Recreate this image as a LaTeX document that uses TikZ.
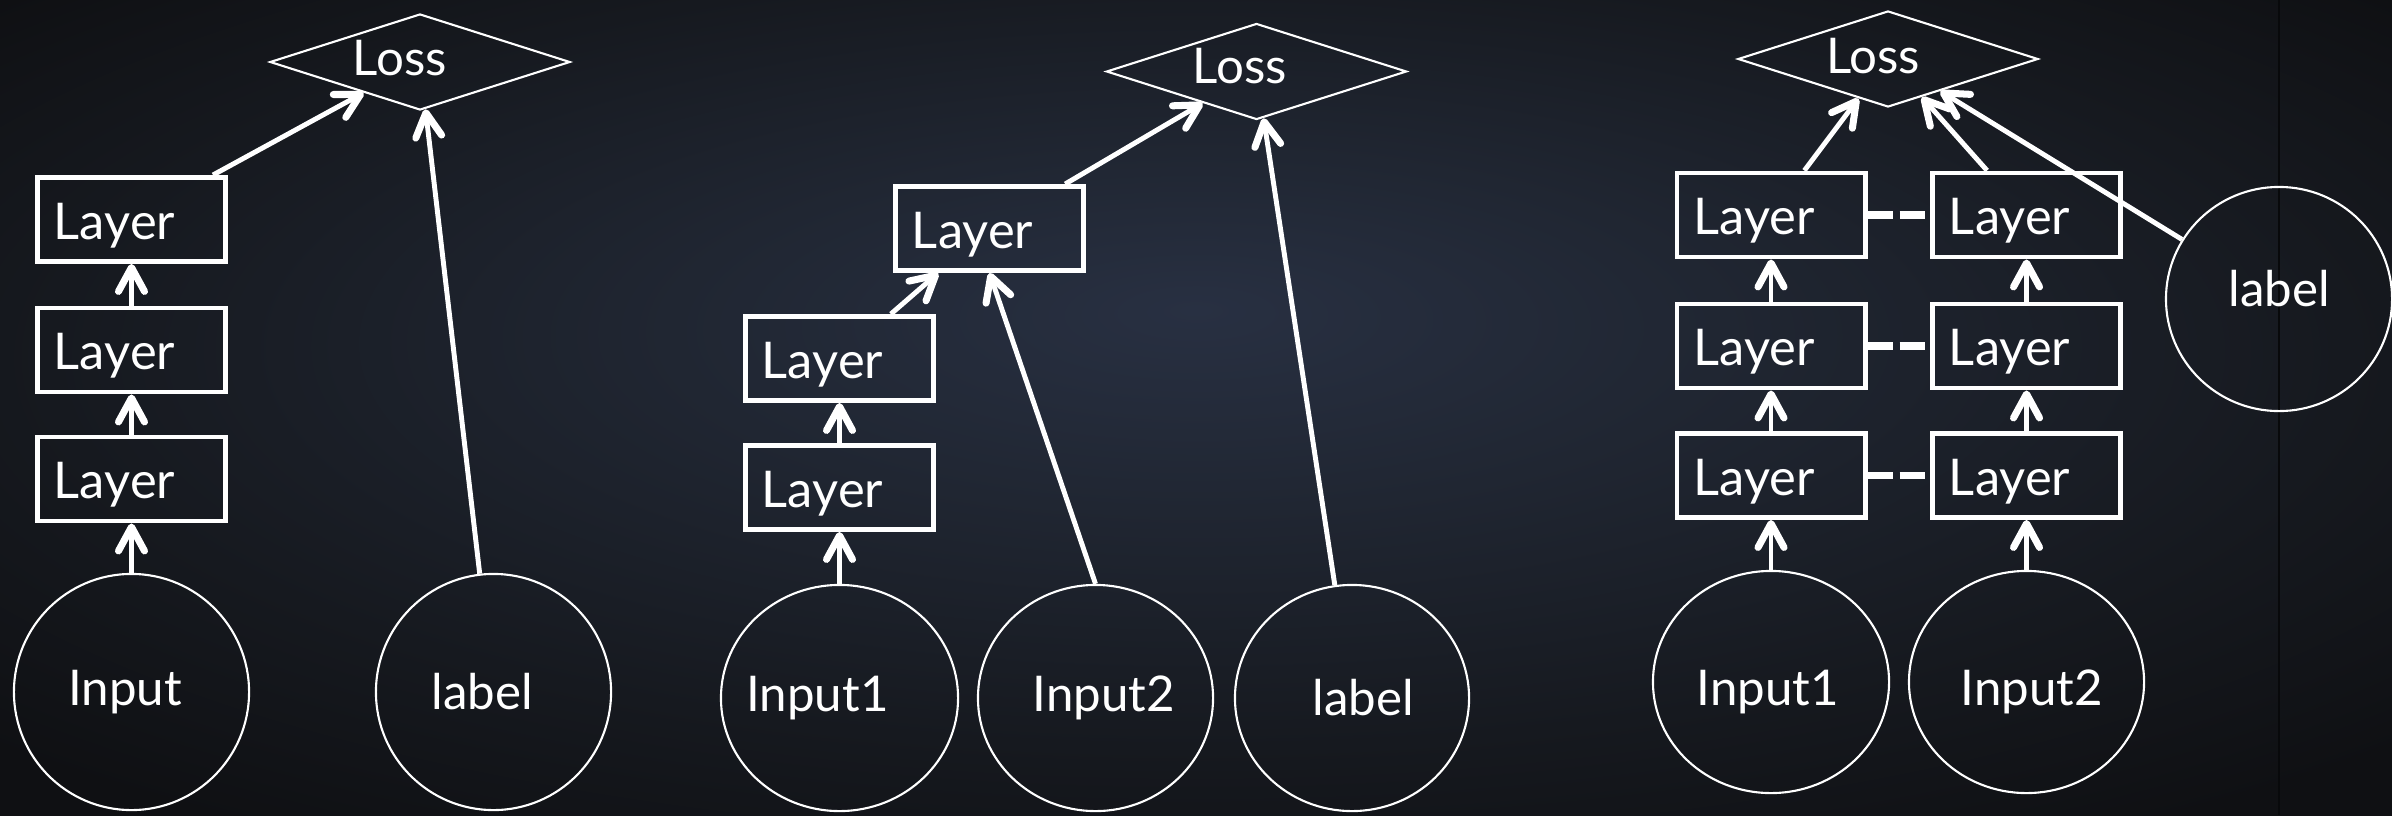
\documentclass[tikz,border=0pt]{standalone}
\usepackage{fontspec}
\setmainfont{Lato}
\usetikzlibrary{arrows.meta,shapes.geometric,calc}

% slate backdrop, lighter towards the upper middle
\definecolor{bgin}{HTML}{283042}
\definecolor{bgmid}{HTML}{202632}
\definecolor{bgedge}{HTML}{16191F}
\definecolor{bgcorner}{HTML}{0F1013}
\definecolor{seam}{HTML}{08090B}
\pgfdeclareradialshading{slate}{\pgfpoint{0bp}{6bp}}{%
  color(0bp)=(bgin); color(11bp)=(bgmid); color(24bp)=(bgedge);
  color(34bp)=(bgcorner); color(50bp)=(bgcorner)}

\tikzset{
  txt/.style={text=white, font=\fontsize{14}{16}\selectfont, inner sep=0pt},
  layerbox/.style={draw=white, line width=1.4pt, minimum height=0.84cm,
    text width=1.55cm, inner xsep=0.165cm, inner ysep=0pt, align=left,
    text height=11.3pt, text depth=0pt,
    text=white, font=\fontsize{14.4}{16}\selectfont},
  blob/.style={draw=white, line width=0.6pt, ellipse, inner sep=0pt},
  lossbox/.style={draw=white, line width=0.6pt, diamond, inner sep=0pt,
    minimum width=3.0cm, minimum height=0.96cm, aspect=3.1},
  arr/.style={draw=white, line width=1.4pt,
    -{Straight Barb[length=6.8pt, width=7.4pt, line width=2pt, round]}},
  tie/.style={draw=white, line width=2pt, dash pattern=on 0.25cm off 0.07cm},
}

\begin{document}
\begin{tikzpicture}[x=0.01cm, y=-0.01cm]
  \useasboundingbox (0,0) rectangle (2392,815);
  \shade[shading=slate] (0,0) rectangle (2392,815);
  \draw[seam, line width=0.6pt] (2279,0) -- (2279,815);

  % ---- single input, stacked layers ----
  \node[lossbox, label={[txt, xshift=-0.20cm, yshift=0.04cm]center:Loss}] (p1loss) at (420,62) {};
  \node[layerbox] (p1l1) at (131.5,219.5) {Layer};
  \node[layerbox] (p1l2) at (131.5,350) {Layer};
  \node[layerbox] (p1l3) at (131.5,479) {Layer};
  \node[blob, minimum width=2.35cm, minimum height=2.36cm,
        label={[txt, xshift=-0.065cm]center:Input}] (p1in) at (131.5,692) {};
  \node[blob, minimum width=2.35cm, minimum height=2.36cm,
        label={[txt, xshift=-0.11cm]center:label}] (p1lab) at (493.5,692) {};

  \draw[arr] (p1in) -- (p1l3);
  \draw[arr] (p1l3) -- (p1l2);
  \draw[arr] (p1l2) -- (p1l1);
  \draw[arr] (p1l1) -- (p1loss);
  \draw[arr] (p1lab) -- (p1loss);

  % ---- two inputs merging into one layer ----
  \node[lossbox, label={[txt, xshift=-0.165cm, yshift=0.055cm]center:Loss}] (p2loss) at (1256.5,71.5) {};
  \node[layerbox] (p2top) at (989.5,228.5) {Layer};
  \node[layerbox] (p2a) at (839.5,358.5) {Layer};
  \node[layerbox] (p2b) at (839.5,487.5) {Layer};
  \node[blob, minimum width=2.37cm, minimum height=2.26cm,
        label={[txt, xshift=-0.22cm]center:Input1}] (p2in1) at (839.5,698) {};
  \node[blob, minimum width=2.35cm, minimum height=2.26cm,
        label={[txt, xshift=0.085cm]center:Input2}] (p2in2) at (1095.5,698) {};
  \node[blob, minimum width=2.34cm, minimum height=2.26cm,
        label={[txt, xshift=0.11cm]center:label}] (p2lab) at (1352,698) {};

  \draw[arr] (p2in1) -- (p2b);
  \draw[arr] (p2b) -- (p2a);
  \draw[arr] (p2a) -- (p2top);
  \draw[arr] (p2in2.north) -- (p2top.south);
  \draw[arr] (p2top) -- (p2loss);
  \draw[arr] (p2lab) -- (p2loss);

  % ---- two towers with tied layers ----
  \node[lossbox, label={[txt, xshift=-0.15cm, yshift=0.03cm]center:Loss}] (p3loss) at (1888,59) {};
  \node[layerbox] (p3a1) at (1771,215) {Layer};
  \node[layerbox] (p3a2) at (1771,346) {Layer};
  \node[layerbox] (p3a3) at (1771,475.5) {Layer};
  \node[layerbox] (p3b1) at (2026.5,215) {Layer};
  \node[layerbox] (p3b2) at (2026.5,346) {Layer};
  \node[layerbox] (p3b3) at (2026.5,475.5) {Layer};
  \node[blob, minimum width=2.36cm, minimum height=2.22cm,
        label={[txt, xshift=-0.03cm, yshift=-0.1cm]center:Input1}] (p3in1) at (1771,682) {};
  \node[blob, minimum width=2.35cm, minimum height=2.22cm,
        label={[txt, xshift=0.055cm, yshift=-0.1cm]center:Input2}] (p3in2) at (2026.5,682) {};
  \node[blob, minimum width=2.26cm, minimum height=2.24cm,
        label={[txt, yshift=0.1cm]center:label}] (p3lab) at (2279,299) {};

  \draw[tie] (p3a1.east) -- (p3b1.west);
  \draw[tie] (p3a2.east) -- (p3b2.west);
  \draw[tie] (p3a3.east) -- (p3b3.west);

  \draw[arr] (p3in1) -- (p3a3);
  \draw[arr] (p3a3) -- (p3a2);
  \draw[arr] (p3a2) -- (p3a1);
  \draw[arr] (p3in2) -- (p3b3);
  \draw[arr] (p3b3) -- (p3b2);
  \draw[arr] (p3b2) -- (p3b1);
  \draw[arr] (p3a1) -- (p3loss);
  \draw[arr] (p3b1) -- (p3loss);
  \draw[arr] (p3lab) -- (p3loss);
\end{tikzpicture}
\end{document}
